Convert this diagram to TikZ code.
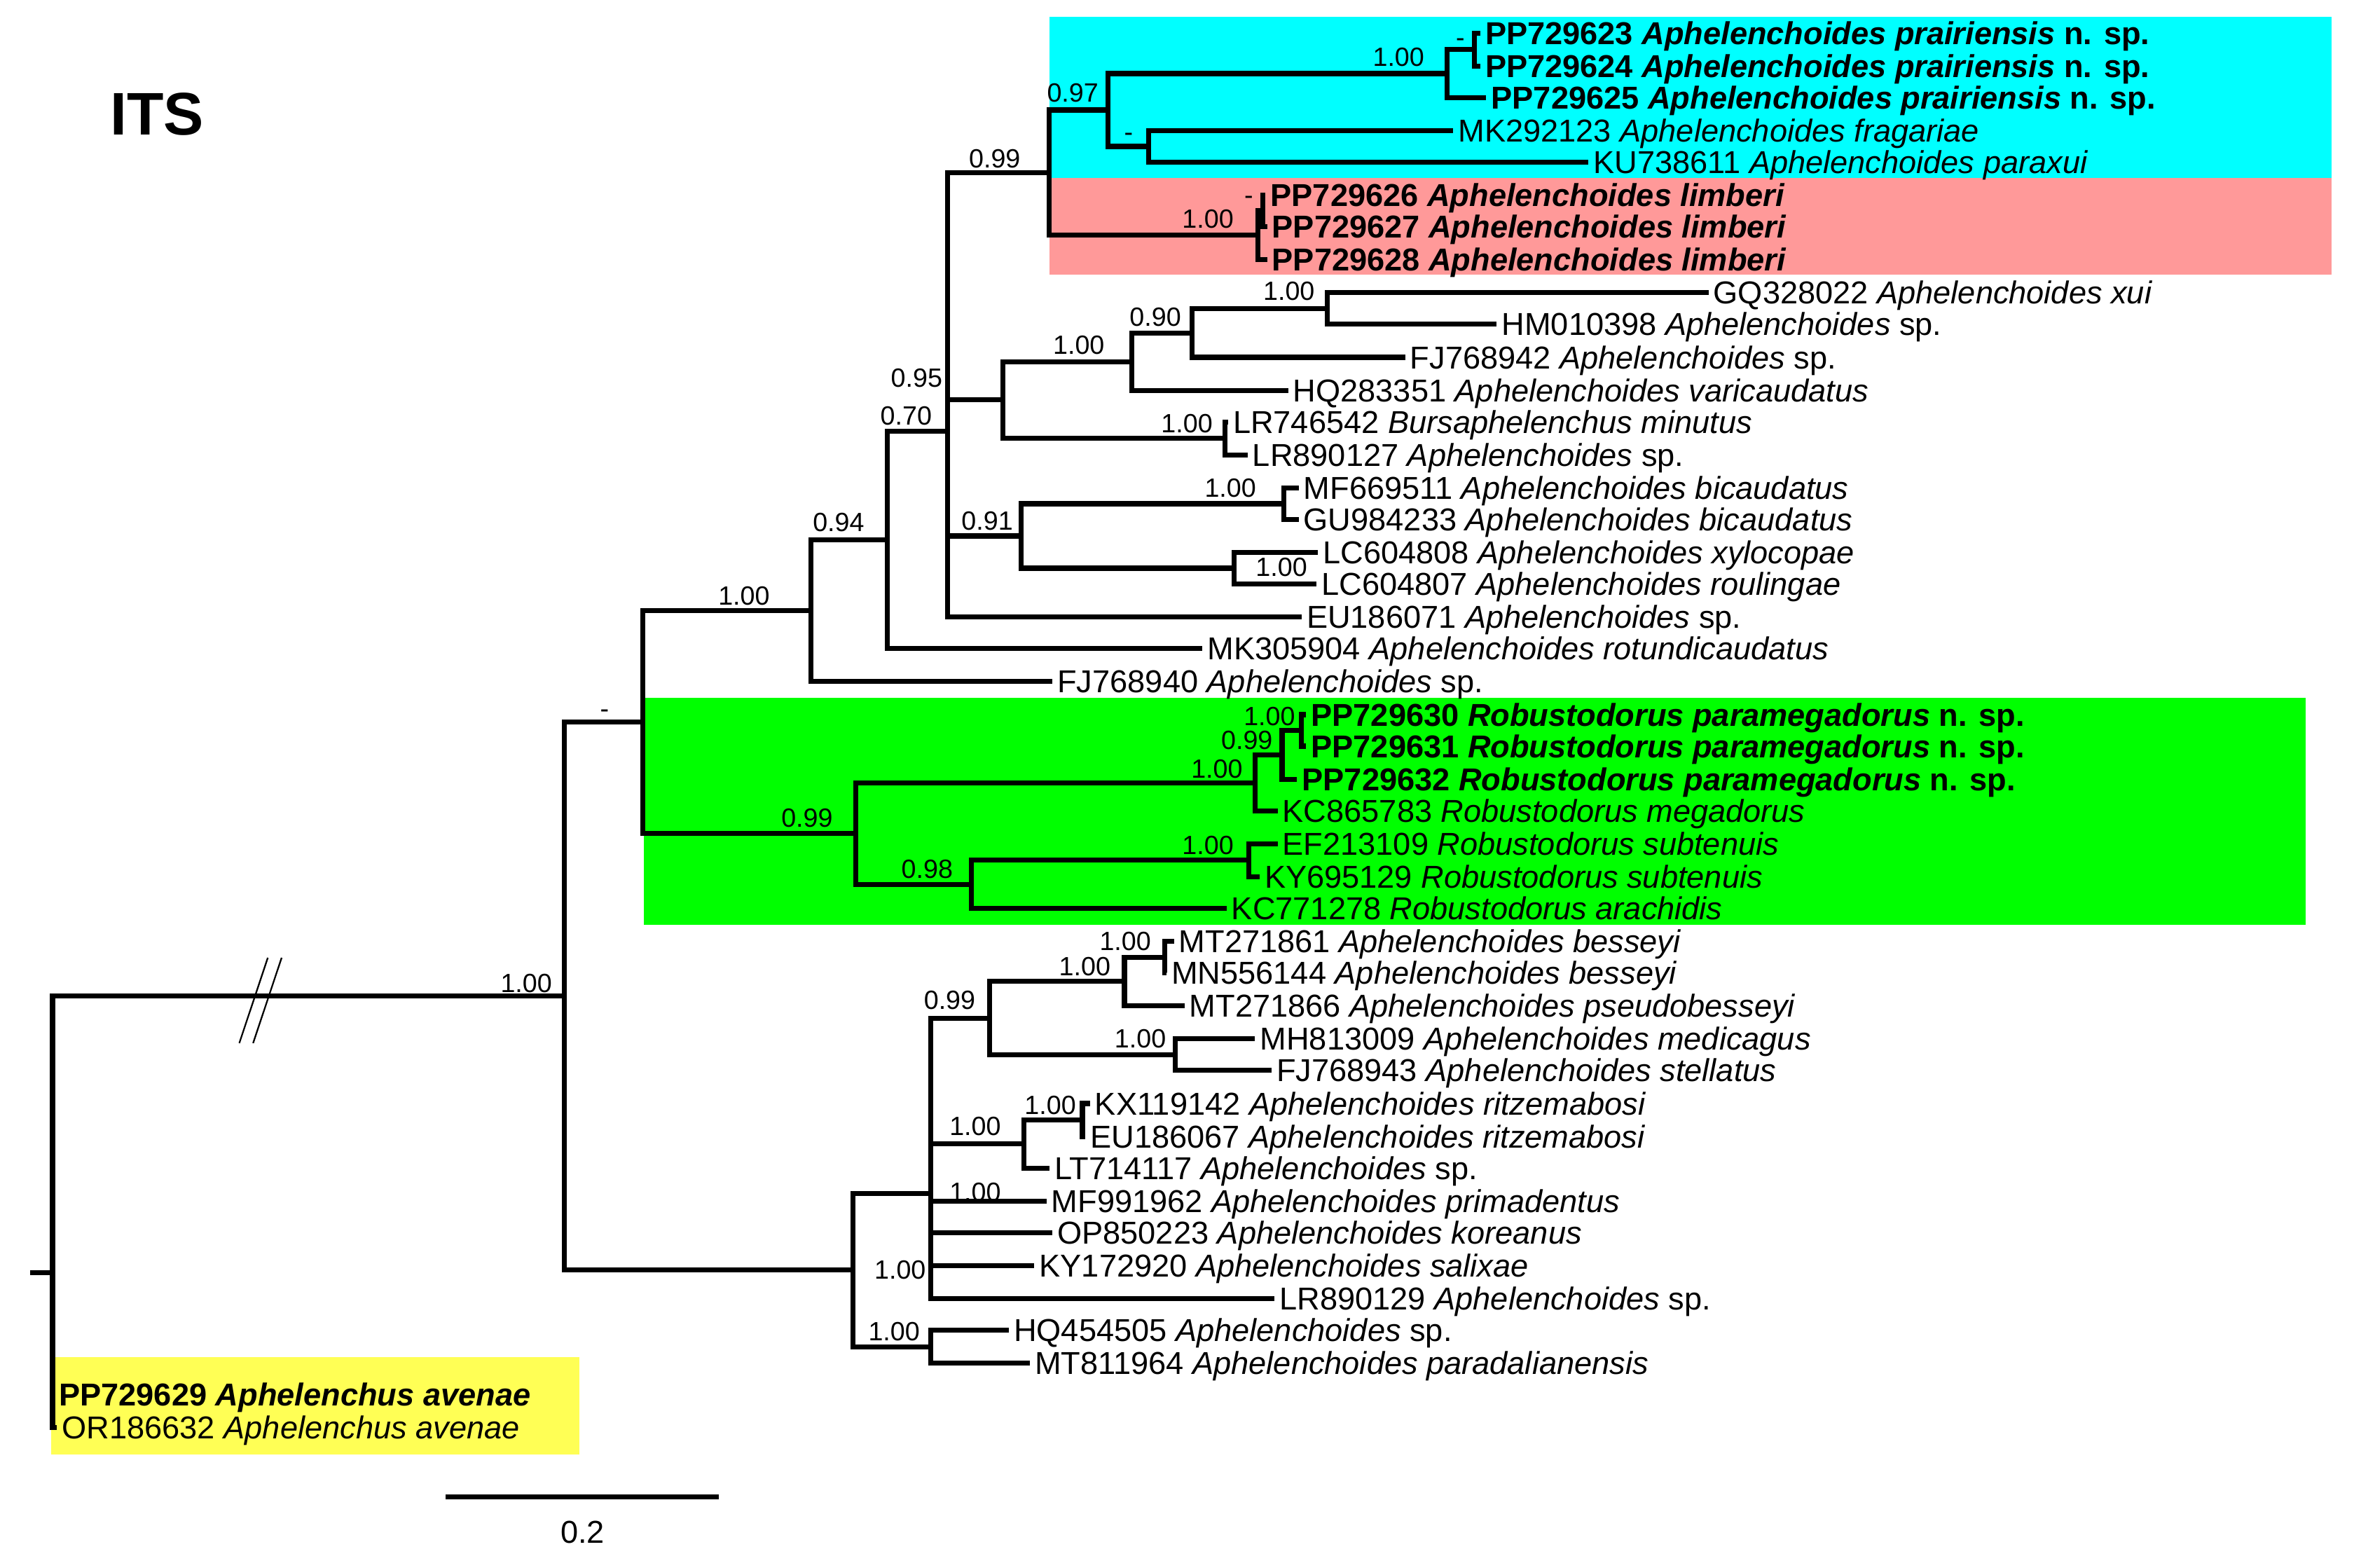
\documentclass[tikz,border=0pt]{standalone}
\usepackage{fontspec}
\setmainfont{Liberation Sans}
\usetikzlibrary{calc}

\definecolor{itscyan}{RGB}{0,255,255}
\definecolor{itspink}{RGB}{255,153,153}
\definecolor{itsgreen}{RGB}{0,255,0}
\definecolor{itsyellow}{RGB}{255,255,85}

\begin{document}
\begin{tikzpicture}[x=0.02cm, y=-0.02cm,
    branch/.style={line width=1.9pt},
    tax/.style={anchor=base west, inner sep=0pt, xshift=0.6mm, yshift=-1.5mm, font=\fontsize{12}{14}\selectfont},
    sup/.style={anchor=base east, inner sep=0pt, font=\fontsize{10}{12}\selectfont}]
    \useasboundingbox (0,0) rectangle (1568,1044);

    % clade boxes
    \fill[itscyan] (699,11) rectangle (1553,118.5);
    \fill[itspink] (699,118.5) rectangle (1553,183);
    \fill[itsgreen] (429,465) rectangle (1536,616);
    \fill[itsyellow] (34,904) rectangle (386,969);

    \node[anchor=base west, inner sep=0pt, font=\bfseries\fontsize{22.8}{26}\selectfont] (its) at (73,90) {ITS};

    % tips
    \foreach \n/\x/\y in {PP729623/986/22, PP729624/986/44, PP729625/990/65, MK292123/968/87,
        KU738611/1058/108, PP729626/843/130, PP729627/844/151, PP729628/844/173,
        GQ328022/1138/195, HM010398/997/216, FJ768942/936/238, HQ283351/858/260,
        LR746542/818/281, LR890127/831/303, MF669511/865/325, GU984233/865/346,
        LC604808/878/368, LC604807/877/389, EU186071/867/411, MK305904/801/432,
        FJ768940/701/454, PP729630/870/476, PP729631/870/497, PP729632/864/519,
        KC865783/851/540, EF213109/851/562, KY695129/839/584, KC771278/817/605,
        MT271861/782/627, MN556144/777/648, MT271866/789/670, MH813009/836/692,
        FJ768943/847/713, KX119142/726/735, EU186067/723/757, LT714117/699/778,
        MF991962/697/800, OP850223/701/821, KY172920/689/843, LR890129/849/865,
        HQ454505/672/886, MT811964/686/908, PP729629/36/929, OR186632/38/951}
        \coordinate (\n) at (\x,\y);

    % internal nodes
    \foreach \n/\x/\y in {n982/982/33, n964/964/49, n765/765/97.5, n738/738/73.25,
        n841/841/140.5, n838/838/156.75, n699/699/115,
        n884/884/205.5, n794/794/221.75, n754/754/240.9, n816/816/292, n668/668/266.4,
        n855/855/335.5, n822/822/378.5, n680/680/357, n631/631/287.35,
        n591/591/359.7, n540/540/406.8,
        n867/867/486.5, n854/854/502.75, n836/836/521.4, n832/832/573, n647/647/589,
        n570/570/555.2, n428/428/481,
        n776/776/637.5, n749/749/653.75, n783/783/702.5, n659/659/678.1,
        n721/721/746, n682/682/762, n620/620/794.85, n620b/620/897, n568/568/845.9,
        n376/376/663.45, n35/35/847.8}
        \coordinate (\n) at (\x,\y);
    \coordinate (base) at (20,847.8);

    % branches
    \foreach \p/\c in {n982/PP729623, n982/PP729624, n964/n982, n964/PP729625,
        n765/MK292123, n765/KU738611, n738/n964, n738/n765,
        n841/PP729626, n841/PP729627, n838/n841, n838/PP729628, n699/n738, n699/n838,
        n884/GQ328022, n884/HM010398, n794/n884, n794/FJ768942, n754/n794, n754/HQ283351,
        n816/LR746542, n816/LR890127, n668/n754, n668/n816,
        n855/MF669511, n855/GU984233, n822/LC604808, n822/LC604807, n680/n855, n680/n822,
        n631/n699, n631/n668, n631/n680, n631/EU186071,
        n591/n631, n591/MK305904, n540/n591, n540/FJ768940,
        n867/PP729630, n867/PP729631, n854/n867, n854/PP729632, n836/n854, n836/KC865783,
        n832/EF213109, n832/KY695129, n647/n832, n647/KC771278, n570/n836, n570/n647,
        n428/n540, n428/n570,
        n776/MT271861, n776/MN556144, n749/n776, n749/MT271866,
        n783/MH813009, n783/FJ768943, n659/n749, n659/n783,
        n721/KX119142, n721/EU186067, n682/n721, n682/LT714117,
        n620/n659, n620/n682, n620/MF991962, n620/OP850223, n620/KY172920, n620/LR890129,
        n620b/HQ454505, n620b/MT811964, n568/n620, n568/n620b,
        n376/n428, n376/n568, n35/n376, n35/PP729629, n35/OR186632}
        \draw[branch] (\p) |- (\c);
    \draw[branch] (base) -- (n35);

    % long branch cut
    \draw[line width=0.6pt] (159.4,694.8) -- (178.4,637.9);
    \draw[line width=0.6pt] (168.6,694.8) -- (187.6,637.9);

    % tip labels
    \node[tax] (lPP729623) at (PP729623) {\textbf{PP729623 \textit{Aphelenchoides prairiensis} n. sp.}};
    \node[tax] (lPP729624) at (PP729624) {\textbf{PP729624 \textit{Aphelenchoides prairiensis} n. sp.}};
    \node[tax] (lPP729625) at (PP729625) {\textbf{PP729625 \textit{Aphelenchoides prairiensis} n. sp.}};
    \node[tax] (lMK292123) at (MK292123) {MK292123 \textit{Aphelenchoides fragariae}};
    \node[tax] (lKU738611) at (KU738611) {KU738611 \textit{Aphelenchoides paraxui}};
    \node[tax] (lPP729626) at (PP729626) {\textbf{PP729626 \textit{Aphelenchoides limberi}}};
    \node[tax] (lPP729627) at (PP729627) {\textbf{PP729627 \textit{Aphelenchoides limberi}}};
    \node[tax] (lPP729628) at (PP729628) {\textbf{PP729628 \textit{Aphelenchoides limberi}}};
    \node[tax] (lGQ328022) at (GQ328022) {GQ328022 \textit{Aphelenchoides xui}};
    \node[tax] (lHM010398) at (HM010398) {HM010398 \textit{Aphelenchoides} sp.};
    \node[tax] (lFJ768942) at (FJ768942) {FJ768942 \textit{Aphelenchoides} sp.};
    \node[tax] (lHQ283351) at (HQ283351) {HQ283351 \textit{Aphelenchoides varicaudatus}};
    \node[tax] (lLR746542) at (LR746542) {LR746542 \textit{Bursaphelenchus minutus}};
    \node[tax] (lLR890127) at (LR890127) {LR890127 \textit{Aphelenchoides} sp.};
    \node[tax] (lMF669511) at (MF669511) {MF669511 \textit{Aphelenchoides bicaudatus}};
    \node[tax] (lGU984233) at (GU984233) {GU984233 \textit{Aphelenchoides bicaudatus}};
    \node[tax] (lLC604808) at (LC604808) {LC604808 \textit{Aphelenchoides xylocopae}};
    \node[tax] (lLC604807) at (LC604807) {LC604807 \textit{Aphelenchoides roulingae}};
    \node[tax] (lEU186071) at (EU186071) {EU186071 \textit{Aphelenchoides} sp.};
    \node[tax] (lMK305904) at (MK305904) {MK305904 \textit{Aphelenchoides rotundicaudatus}};
    \node[tax] (lFJ768940) at (FJ768940) {FJ768940 \textit{Aphelenchoides} sp.};
    \node[tax] (lPP729630) at (PP729630) {\textbf{PP729630 \textit{Robustodorus paramegadorus} n. sp.}};
    \node[tax] (lPP729631) at (PP729631) {\textbf{PP729631 \textit{Robustodorus paramegadorus} n. sp.}};
    \node[tax] (lPP729632) at (PP729632) {\textbf{PP729632 \textit{Robustodorus paramegadorus} n. sp.}};
    \node[tax] (lKC865783) at (KC865783) {KC865783 \textit{Robustodorus megadorus}};
    \node[tax] (lEF213109) at (EF213109) {EF213109 \textit{Robustodorus subtenuis}};
    \node[tax] (lKY695129) at (KY695129) {KY695129 \textit{Robustodorus subtenuis}};
    \node[tax] (lKC771278) at (KC771278) {KC771278 \textit{Robustodorus arachidis}};
    \node[tax] (lMT271861) at (MT271861) {MT271861 \textit{Aphelenchoides besseyi}};
    \node[tax] (lMN556144) at (MN556144) {MN556144 \textit{Aphelenchoides besseyi}};
    \node[tax] (lMT271866) at (MT271866) {MT271866 \textit{Aphelenchoides pseudobesseyi}};
    \node[tax] (lMH813009) at (MH813009) {MH813009 \textit{Aphelenchoides medicagus}};
    \node[tax] (lFJ768943) at (FJ768943) {FJ768943 \textit{Aphelenchoides stellatus}};
    \node[tax] (lKX119142) at (KX119142) {KX119142 \textit{Aphelenchoides ritzemabosi}};
    \node[tax] (lEU186067) at (EU186067) {EU186067 \textit{Aphelenchoides ritzemabosi}};
    \node[tax] (lLT714117) at (LT714117) {LT714117 \textit{Aphelenchoides} sp.};
    \node[tax] (lMF991962) at (MF991962) {MF991962 \textit{Aphelenchoides primadentus}};
    \node[tax] (lOP850223) at (OP850223) {OP850223 \textit{Aphelenchoides koreanus}};
    \node[tax] (lKY172920) at (KY172920) {KY172920 \textit{Aphelenchoides salixae}};
    \node[tax] (lLR890129) at (LR890129) {LR890129 \textit{Aphelenchoides} sp.};
    \node[tax] (lHQ454505) at (HQ454505) {HQ454505 \textit{Aphelenchoides} sp.};
    \node[tax] (lMT811964) at (MT811964) {MT811964 \textit{Aphelenchoides paradalianensis}};
    \node[tax] (lPP729629) at (PP729629) {\textbf{PP729629 \textit{Aphelenchus avenae}}};
    \node[tax] (lOR186632) at (OR186632) {OR186632 \textit{Aphelenchus avenae}};

    % posterior probabilities
    \foreach \x/\y/\t [count=\i] in {949/44/1.00, 976/31/-, 732/68/0.97, 755/94/-, 680/112/0.99,
        835/136/-, 822/152/1.00, 876/200/1.00, 787/217/0.90, 736/236/1.00, 628/258/0.95,
        621/283/0.70, 808/288/1.00, 837/331/1.00, 675/353/0.91, 576/354/0.94, 871/384/1.00,
        513/403/1.00, 406/478/-, 863/483/1.00, 848/499/0.99, 828/518/1.00, 555/551/0.99,
        822/569/1.00, 635/585/0.98, 767/633/1.00, 740/650/1.00, 368/661/1.00, 650/672/0.99,
        777/698/1.00, 717/742/1.00, 667/756/1.00, 667/800/1.00, 617/852/1.00, 613/893/1.00}
        \node[sup] (s\i) at (\x,\y) {\t};

    % scale bar
    \coordinate (sb1) at (297,997);
    \coordinate (sb2) at (479,997);
    \draw[branch] (sb1) -- (sb2);
    \node[anchor=base, inner sep=0pt, font=\fontsize{12}{14}\selectfont] (sbl) at (388,1028) {0.2};
\end{tikzpicture}
\end{document}
